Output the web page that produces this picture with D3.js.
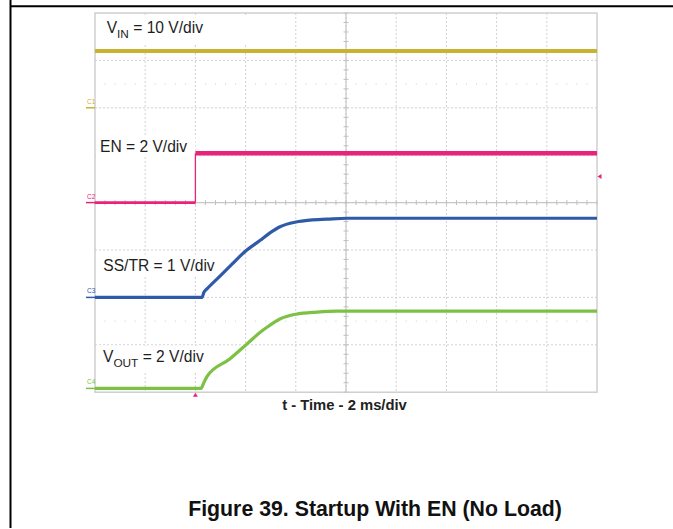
<!DOCTYPE html>
<html><head><meta charset="utf-8">
<script src="https://cdn.jsdelivr.net/npm/d3@7"></script>
<style>body{margin:0;background:#fff;} svg{display:block;font-family:"Liberation Sans",Arial,sans-serif;}</style>
</head><body>
<script>
// ---- data (time in ms relative to EN rising edge, values in volts) ----
const channelNames = ["C1", "C2", "C3", "C4"];
const channelColors = ["#c6b430", "#e8237c", "#2f5aa8", "#7cc143"];
const voltsPerDiv = [10, 2, 1, 2];
const offsetDiv = [2, 0, -2, -3.92];
const labelMain = ["V", "EN = 2 V/div", "SS/TR = 1 V/div", "V"];
const labelSub = ["IN", "", "", "OUT"];
const labelRest = [" = 10 V/div", "", "", " = 2 V/div"];
const xAxisTitle = "t - Time - 2 ms/div";
const figureTitle = "Figure 39. Startup With EN (No Load)";

const vinTime = [-4, 16];
const vinVolts = [12, 12];
const enTime = [-4, 0, 0, 16];
const enVolts = [0, 0, 2.08, 2.08];
const ssTime = [-4, 0.26, 0.34, 0.46, 0.98, 1.46, 1.98, 2.57, 2.97, 3.37, 4.01, 4.57, 5.24, 6.04, 16];
const ssVolts = [0, 0, 0.11, 0.18, 0.45, 0.70, 0.97, 1.20, 1.36, 1.49, 1.59, 1.63, 1.65, 1.67, 1.67];
const voutTime = [-4, 0.22, 0.34, 0.46, 1.38, 2.06, 2.57, 2.85, 3.37, 4.01, 4.84, 5.64, 16];
const voutVolts = [0, 0, 0.25, 0.5, 1.25, 1.88, 2.36, 2.58, 2.93, 3.13, 3.22, 3.26, 3.26];
const triggerLevel = 1.1; // V on C2

const seriesTime = [vinTime, enTime, ssTime, voutTime];
const seriesVolts = [vinVolts, enVolts, ssVolts, voutVolts];

// ---- layout ----
const W = 673, H = 529;
const plot = {x: 95, y: 13, w: 502, h: 379.2};
const svg = d3.select("body").append("svg").attr("width", W).attr("height", H);

// page frame lines
svg.append("line").attr("x1", 10).attr("x2", W).attr("y1", 6.3).attr("y2", 6.3).attr("stroke", "#000").attr("stroke-width", 2);
svg.append("line").attr("x1", 10.5).attr("x2", 10.5).attr("y1", 0).attr("y2", 528).attr("stroke", "#000").attr("stroke-width", 2);

const x = d3.scaleLinear().domain([-4, 16]).range([plot.x, plot.x + plot.w]);
const yDiv = d3.scaleLinear().domain([-4, 4]).range([plot.y + plot.h, plot.y]);
const divX = d3.range(0, 11).map(i => -4 + i * 2);
const divY = d3.range(-4, 5);

const g = svg.append("g");
// grid
g.selectAll(".vg").data(divX.slice(1, -1)).join("line")
  .attr("x1", d => x(d)).attr("x2", d => x(d)).attr("y1", plot.y).attr("y2", plot.y + plot.h)
  .attr("stroke", "#d2d2d2").attr("stroke-width", 1).attr("stroke-dasharray", "2,2");
g.selectAll(".hg").data(divY.slice(1, -1)).join("line")
  .attr("y1", d => yDiv(d)).attr("y2", d => yDiv(d)).attr("x1", plot.x).attr("x2", plot.x + plot.w)
  .attr("stroke", "#d2d2d2").attr("stroke-width", 1).attr("stroke-dasharray", "2,2");
// dotted rows at +/-2.5 div
const minorT = d3.range(-4, 16.01, 0.4).filter(t => Math.abs(t / 2 - Math.round(t / 2)) > 0.01);
[2.5, -2.5].forEach(dv => {
  g.selectAll(null).data(minorT).join("rect")
    .attr("x", d => x(d) - 0.5).attr("y", yDiv(dv) - 0.5).attr("width", 1).attr("height", 1).attr("fill", "#cacaca");
});
// center crosshair with ticks
g.append("line").attr("x1", x(6)).attr("x2", x(6)).attr("y1", plot.y).attr("y2", plot.y + plot.h).attr("stroke", "#c8c8c8").attr("stroke-width", 1.2);
g.append("line").attr("y1", yDiv(0)).attr("y2", yDiv(0)).attr("x1", plot.x).attr("x2", plot.x + plot.w).attr("stroke", "#c8c8c8").attr("stroke-width", 1.2);
g.selectAll(null).data(d3.range(-4, 4.01, 0.2)).join("line")
  .attr("x1", x(6) - 2.5).attr("x2", x(6) + 2.5).attr("y1", d => yDiv(d)).attr("y2", d => yDiv(d))
  .attr("stroke", "#c0c0c0").attr("stroke-width", 1);
g.selectAll(null).data(d3.range(-4, 16.01, 0.4)).join("line")
  .attr("y1", yDiv(0) - 2.5).attr("y2", yDiv(0) + 2.5).attr("x1", d => x(d)).attr("x2", d => x(d))
  .attr("stroke", "#c0c0c0").attr("stroke-width", 1);
// border
g.append("rect").attr("x", plot.x).attr("y", plot.y).attr("width", plot.w).attr("height", plot.h)
  .attr("fill", "none").attr("stroke", "#c8c8c8").attr("stroke-width", 1.3);

// label backgrounds + labels
const labelPos = [[106.7, 33.3], [100, 151.7], [103.3, 270.7], [103, 361.7]];
const labelG = svg.append("g");
const textEls = [];
labelMain.forEach((m, i) => {
  const t = labelG.append("text").attr("x", labelPos[i][0]).attr("y", labelPos[i][1])
    .attr("font-size", 15.6).attr("fill", "#1e1e1e");
  t.append("tspan").text(m);
  if (labelSub[i]) {
    t.append("tspan").attr("font-size", 11.8).attr("dy", 4.8).text(labelSub[i]);
    t.append("tspan").attr("dy", -4.8).text(labelRest[i]);
  }
  textEls.push(t);
});
textEls.forEach((t, i) => {
  const bb = t.node().getBBox();
  const extra = i === 0 ? 60 : 4;
  labelG.insert("rect", "text").attr("x", Math.max(plot.x + 1, bb.x - 4)).attr("y", bb.y - 2)
    .attr("width", bb.width + 8 + extra).attr("height", bb.height + 4).attr("fill", "#fff");
});

// traces
const stroke = [4, 4.5, 3.2, 3.2];
const yOf = (i, v) => yDiv(offsetDiv[i] + v / voltsPerDiv[i]);
seriesTime.forEach((ts, i) => {
  const pts = ts.map((t, k) => [x(t), yOf(i, seriesVolts[i][k])]);
  const ln = d3.line().curve(i >= 2 ? d3.curveMonotoneX : d3.curveLinear);
  if (i === 1) {
    // EN: low segment thinner, thin edge, thick noisy high segment
    svg.append("path").attr("d", ln(pts.slice(0, 2))).attr("fill", "none").attr("stroke", channelColors[i]).attr("stroke-width", 2.6);
    svg.append("path").attr("d", ln(pts.slice(1, 3))).attr("fill", "none").attr("stroke", channelColors[i]).attr("stroke-width", 1.3);
    svg.append("path").attr("d", ln(pts.slice(2))).attr("fill", "none").attr("stroke", channelColors[i]).attr("stroke-width", 4.5);
    return;
  }
  svg.append("path").attr("d", ln(pts)).attr("fill", "none")
    .attr("stroke", channelColors[i]).attr("stroke-width", stroke[i]).attr("stroke-linejoin", "round");
});

// channel ground markers
channelNames.forEach((c, i) => {
  const yy = yDiv(offsetDiv[i]);
  svg.append("line").attr("x1", 86).attr("x2", plot.x).attr("y1", yy).attr("y2", yy)
    .attr("stroke", channelColors[i]).attr("stroke-width", 1.5);
  svg.append("text").attr("x", 87).attr("y", yy - 4).attr("font-size", 6.5).attr("fill", channelColors[i]).text(c);
});
// trigger markers
const tx = x(0), ty = yOf(1, triggerLevel);
svg.append("path").attr("d", `M${tx},${plot.y + plot.h + 0.5} l-2.5,4 l5,0 z`).attr("fill", channelColors[1]);
svg.append("path").attr("d", `M${plot.x + plot.w + 0.5},${ty} l4,-2.5 l0,5 z`).attr("fill", channelColors[1]);

// axis title and figure title
svg.append("text").attr("x", 344.5).attr("y", 409.5).attr("text-anchor", "middle")
  .attr("font-size", 14.8).attr("font-weight", "bold").attr("fill", "#222").text(xAxisTitle);
svg.append("text").attr("x", 375).attr("y", 516).attr("text-anchor", "middle")
  .attr("font-size", 21.3).attr("font-weight", "bold").attr("fill", "#111").text(figureTitle);
</script>
</body></html>
